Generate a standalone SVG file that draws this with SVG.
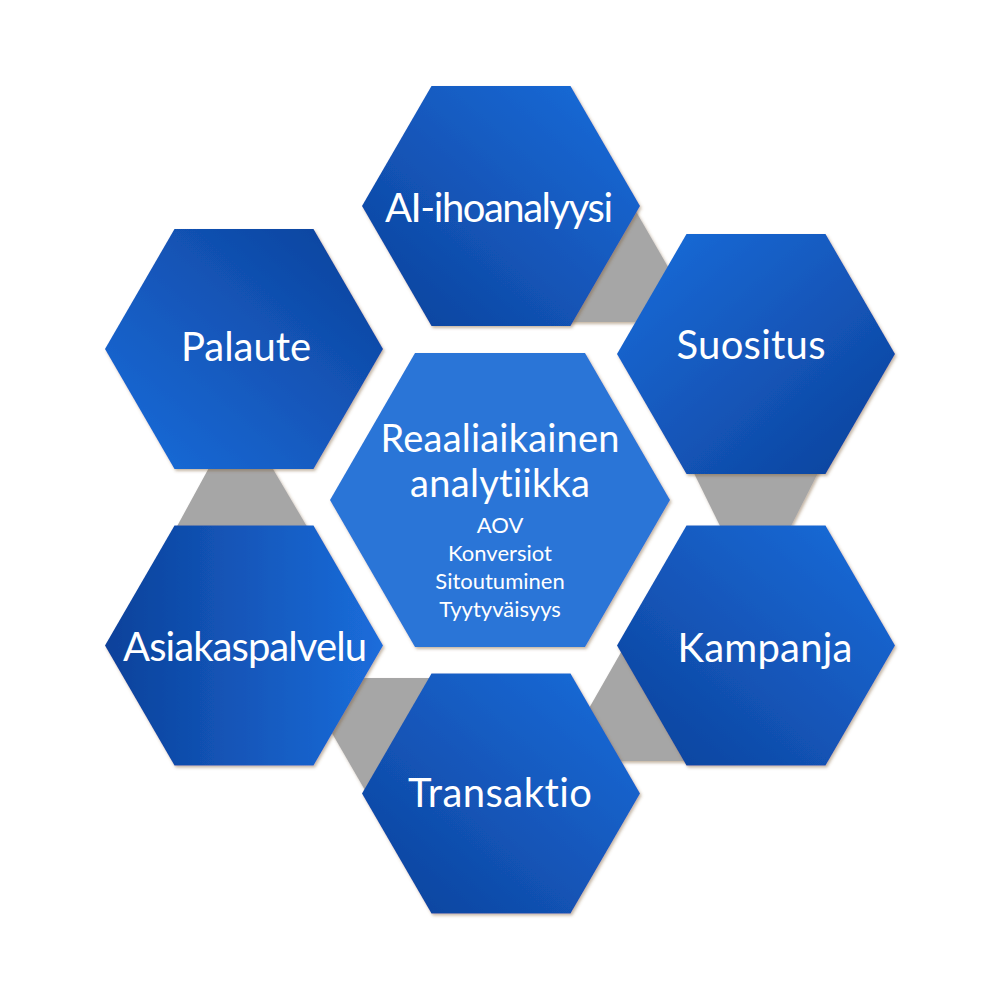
<svg xmlns="http://www.w3.org/2000/svg" width="1000" height="1000" viewBox="0 0 1000 1000">
  <defs>
    <style>
      .lbl { font-family: Lato, "Source Sans Pro", "Noto Sans", "Liberation Sans", sans-serif; fill: #ffffff; text-anchor: middle; font-variant-ligatures: none; font-feature-settings: "liga" 0; }
      .big { font-size: 40px; }
      .ctr { font-size: 38px; }
      .sml { font-size: 22px; }
      .conn { fill: #a6a6a6; filter: url(#sh); }
      .hex { filter: url(#sh); }
    </style>
    <filter id="sh" x="-10%" y="-10%" width="125%" height="125%">
      <feDropShadow dx="1.5" dy="2" stdDeviation="1.5" flood-color="#7a5a30" flood-opacity="0.45"/>
    </filter>
    <linearGradient id="gAI" x1="0" y1="1" x2="1" y2="0">
      <stop offset="0" stop-color="#0c419a"/>
      <stop offset="1" stop-color="#1b6ddb"/>
    </linearGradient>
    <linearGradient id="gSu" x1="0" y1="0" x2="1" y2="1">
      <stop offset="0" stop-color="#1b6ddb"/>
      <stop offset="1" stop-color="#0c419a"/>
    </linearGradient>
    <linearGradient id="gKa" x1="0" y1="1" x2="1" y2="0">
      <stop offset="0" stop-color="#0c419a"/>
      <stop offset="1" stop-color="#1b6ddb"/>
    </linearGradient>
    <linearGradient id="gTr" x1="0" y1="1" x2="1" y2="0">
      <stop offset="0" stop-color="#0c419a"/>
      <stop offset="1" stop-color="#1b6ddb"/>
    </linearGradient>
    <linearGradient id="gAs" x1="0" y1="0" x2="1" y2="0">
      <stop offset="0" stop-color="#0c419a"/>
      <stop offset="1" stop-color="#1b6ddb"/>
    </linearGradient>
    <linearGradient id="gPa" x1="0" y1="1" x2="1" y2="0">
      <stop offset="0" stop-color="#1b6ddb"/>
      <stop offset="1" stop-color="#0c419a"/>
    </linearGradient>
  </defs>
  <rect x="0" y="0" width="1000" height="1000" fill="#ffffff"/>

  <g id="connectors">
    <polygon class="conn" points="627,196 675,279 675,322 560,322"/>
    <polygon class="conn" points="690,465 822,465 789,530 722,530"/>
    <polygon class="conn" points="580,724 628,640 700,640 700,761 600,761"/>
    <polygon class="conn" points="373,804 325,721 325,678 440,678"/>
    <polygon class="conn" points="211,464 270,464 309,530 175,530"/>
  </g>

  <g id="node-center">
    <polygon class="hex" fill="#2b74d7" points="330,500 415,353 585,353 670,500 585,647 415,647"/>
    <text class="lbl ctr" x="500" y="452" textLength="239" lengthAdjust="spacing">Reaaliaikainen</text>
    <text class="lbl ctr" x="500" y="497" textLength="180" lengthAdjust="spacing">analytiikka</text>
    <text class="lbl sml" x="500" y="533">AOV</text>
    <text class="lbl sml" x="500" y="561">Konversiot</text>
    <text class="lbl sml" x="500" y="589">Sitoutuminen</text>
    <text class="lbl sml" x="500" y="617">Tyytyväisyys</text>
  </g>

  <g id="node-ai">
    <polygon class="hex" fill="url(#gAI)" points="362,206 431.5,86 570.5,86 640,206 570.5,326 431.5,326"/>
    <text class="lbl big" x="499" y="222" textLength="228" lengthAdjust="spacing">AI-ihoanalyysi</text>
  </g>

  <g id="node-suositus">
    <polygon class="hex" fill="url(#gSu)" points="617,354 686.5,234 825.5,234 895,354 825.5,474 686.5,474"/>
    <text class="lbl big" x="751" y="359" textLength="149" lengthAdjust="spacing">Suositus</text>
  </g>

  <g id="node-kampanja">
    <polygon class="hex" fill="url(#gKa)" points="617,645.5 686.5,525.5 825.5,525.5 895,645.5 825.5,765.5 686.5,765.5"/>
    <text class="lbl big" x="765" y="662" textLength="175" lengthAdjust="spacing">Kampanja</text>
  </g>

  <g id="node-transaktio">
    <polygon class="hex" fill="url(#gTr)" points="362,793.5 431.5,673.5 570.5,673.5 640,793.5 570.5,913.5 431.5,913.5"/>
    <text class="lbl big" x="500" y="807" textLength="184" lengthAdjust="spacing">Transaktio</text>
  </g>

  <g id="node-asiakaspalvelu">
    <polygon class="hex" fill="url(#gAs)" points="105,645.5 174.5,525.5 313.5,525.5 383,645.5 313.5,765.5 174.5,765.5"/>
    <text class="lbl big" x="245" y="661" textLength="244" lengthAdjust="spacing">Asiakaspalvelu</text>
  </g>

  <g id="node-palaute">
    <polygon class="hex" fill="url(#gPa)" points="105,349 174.5,229 313.5,229 383,349 313.5,469 174.5,469"/>
    <text class="lbl big" x="246" y="361" textLength="130" lengthAdjust="spacing">Palaute</text>
  </g>
</svg>
